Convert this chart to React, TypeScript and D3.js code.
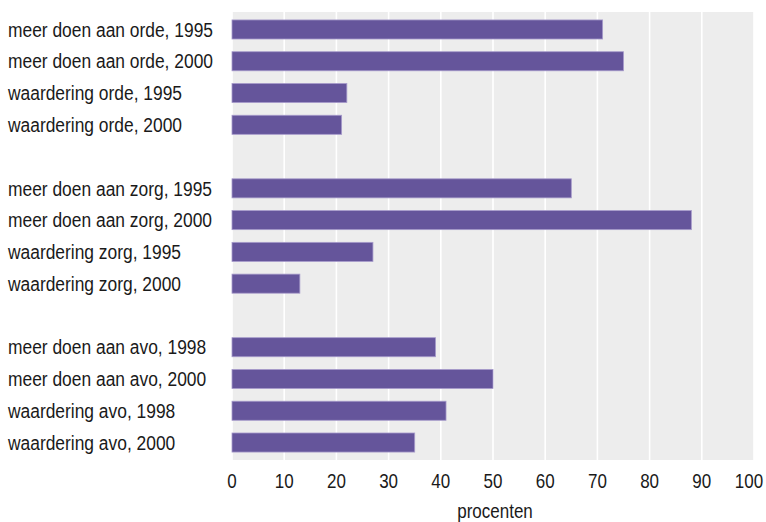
import React from "react";
import * as d3 from "d3";

const categories = [
  "meer doen aan orde, 1995",
  "meer doen aan orde, 2000",
  "waardering orde, 1995",
  "waardering orde, 2000",
  "",
  "meer doen aan zorg, 1995",
  "meer doen aan zorg, 2000",
  "waardering zorg, 1995",
  "waardering zorg, 2000",
  " ",
  "meer doen aan avo, 1998",
  "meer doen aan avo, 2000",
  "waardering avo, 1998",
  "waardering avo, 2000",
];
const values: (number | null)[] = [71, 75, 22, 21, null, 65, 88, 27, 13, null, 39, 50, 41, 35];
const xTicks = [0, 10, 20, 30, 40, 50, 60, 70, 80, 90, 100];
const xTitle = "procenten";

const W = 766;
const H = 522;
const M = { left: 232, right: 12, top: 12, bottom: 62 };
const FONT = "'Liberation Sans', Arial, sans-serif";

function NText(props: { x: number; y: number; sx: number; anchor?: string; size: number; dy?: string; children: React.ReactNode }) {
  return (
    <text
      transform={`translate(${props.x},${props.y}) scale(${props.sx},1)`}
      dy={props.dy}
      textAnchor={props.anchor || "start"}
      fontSize={props.size}
      fill="#1a1a1a"
    >
      {props.children}
    </text>
  );
}

export default function App() {
  const x = d3.scaleLinear().domain([0, 100]).range([M.left, W - M.right]);
  const y = d3.scalePoint<string>().domain(categories).range([M.top, H - M.bottom]).padding(0.55);
  const step = y.step();
  const barH = step * 0.6;
  return (
    <svg width={W} height={H} style={{ position: "fixed", left: 0, top: 0, background: "#fff" }} fontFamily={FONT}>
      <rect x={M.left} y={M.top} width={W - M.right - M.left} height={H - M.bottom - M.top} fill="#ededed" />
      {xTicks.map((t) => (
        <line key={t} x1={x(t)} x2={x(t)} y1={M.top} y2={H - M.bottom} stroke="#ffffff" strokeWidth={1.6} />
      ))}
      {categories.map((c, i) =>
        values[i] == null ? null : (
          <rect
            key={c}
            x={x(0)}
            y={(y(c) as number) - barH / 2}
            width={x(values[i] as number) - x(0)}
            height={barH}
            fill="#65559b"
            stroke="#a79bcb"
            strokeWidth={0.8}
          />
        )
      )}
      {categories.map((c, i) =>
        c.trim() === "" ? null : (
          <NText key={"l" + i} x={8} y={y(c) as number} dy="0.36em" size={20} sx={0.87}>
            {c}
          </NText>
        )
      )}
      {xTicks.map((t) => (
        <NText key={"t" + t} x={Math.min(x(t), W - 17)} y={488} anchor="middle" size={20} sx={0.85}>
          {t}
        </NText>
      ))}
      <NText x={(M.left + W - M.right) / 2 + 2} y={518} anchor="middle" size={20} sx={0.85}>
        {xTitle}
      </NText>
    </svg>
  );
}
